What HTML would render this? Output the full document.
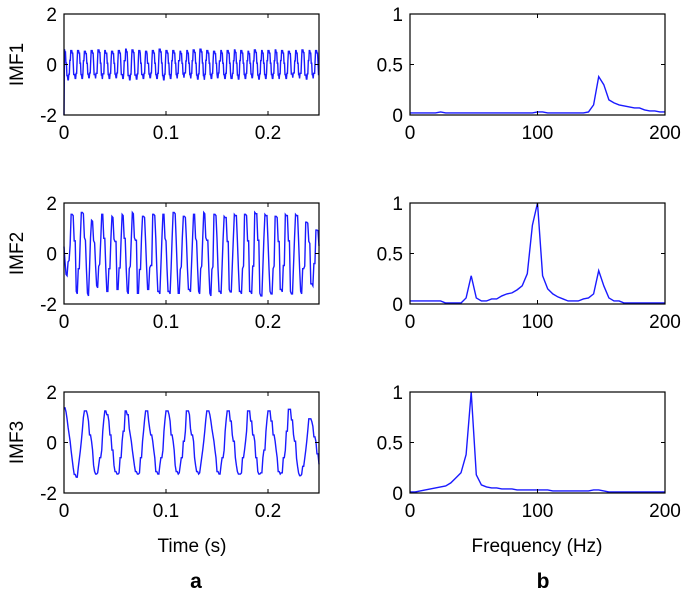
<!DOCTYPE html>
<html><head><meta charset="utf-8"><style>
html,body{margin:0;padding:0;background:#fff;}
svg{display:block;font-family:"Liberation Sans",Arial,sans-serif;}
</style></head><body>
<svg id="fig" width="685" height="600" viewBox="0 0 685 600" xmlns="http://www.w3.org/2000/svg"></svg>
<script>
// ---- data ----
const imf1Shape = [0.55,0.45,0.05,-0.4,-0.55,-0.35,0.15];
const imf1Amp = [1.1,1,1,0.95,1,1.05,1,0.95,1,1.1,1.05,1,0.95,1,1.1,1,1,0.95,1,1.05,1.1,1,0.95,1,1,1.05,1,0.95,1.05,1,1,1.05,1,0.95,1,1.05,1,1];
const imf2Shape = [1.55,1.5,0.6,0.5,-0.6,-1.5,-1.6,-0.6,-0.5,0.6];
const imf2Amp = [0.55,1.0,1.05,0.85,1,0.95,1,1.05,0.95,1,1,1.05,0.95,1,1.05,1,0.95,1,1,1.05,1,0.95,1,1,0.8,0.6];
const imf3Shape = [1.25,1.25,1.1,0.85,0.55,0.3,0.05,-0.3,-0.6,-0.9,-1.15,-1.25,-1.25,-1.2,-0.9,-0.6,-0.3,0.05,0.45,0.9];
const imf3Amp = [1.1,1,1,1,1,1,1,1,1,1,1,1.05,0.75,0.7];
const spec1 = [0.02,0.02,0.02,0.02,0.02,0.02,0.03,0.02,0.02,0.02,0.02,0.02,0.02,0.02,0.02,0.02,0.02,0.02,0.02,0.02,0.02,0.02,0.02,0.02,0.02,0.03,0.03,0.02,0.02,0.02,0.02,0.02,0.02,0.02,0.02,0.03,0.1,0.38,0.3,0.15,0.12,0.1,0.09,0.08,0.07,0.07,0.05,0.04,0.04,0.03,0.03];
const spec2 = [0.03,0.03,0.03,0.03,0.03,0.03,0.03,0.01,0.01,0.01,0.01,0.06,0.28,0.06,0.03,0.03,0.05,0.05,0.08,0.1,0.11,0.14,0.18,0.3,0.78,1.0,0.28,0.15,0.1,0.07,0.05,0.03,0.03,0.03,0.05,0.06,0.1,0.33,0.18,0.06,0.03,0.03,0.01,0.01,0.01,0.01,0.01,0.01,0.01,0.01,0.01];
const spec3 = [0.01,0.01,0.02,0.03,0.04,0.05,0.06,0.07,0.1,0.15,0.2,0.38,1.0,0.18,0.08,0.06,0.05,0.05,0.04,0.04,0.04,0.03,0.03,0.03,0.03,0.03,0.03,0.03,0.02,0.02,0.02,0.02,0.02,0.02,0.02,0.02,0.03,0.03,0.02,0.01,0.01,0.01,0.01,0.01,0.01,0.01,0.01,0.01,0.01,0.01,0.01];
const freqStep = 4;
const timeTicks = [0,0.1,0.2];
const timeTickLabels = ["0","0.1","0.2"];
const ampTicks = [-2,0,2];
const ampTickLabels = ["-2","0","2"];
const freqTicks = [0,100,200];
const freqTickLabels = ["0","100","200"];
const specTicks = [0,0.5,1];
const specTickLabels = ["0","0.5","1"];

const NS="http://www.w3.org/2000/svg";
const svg=document.getElementById('fig');
function el(tag,attrs,parent){const e=document.createElementNS(NS,tag);for(const k in attrs)e.setAttribute(k,attrs[k]);(parent||svg).appendChild(e);return e;}

function buildSignal(shape,amp,period,fs,phase,tmax){
  const t=[],v=[];const n=Math.round(tmax*fs);
  for(let i=0;i<=n;i++){const tt=i/fs;const c=(tt+phase)/period;const ci=Math.floor(c);
    const si=Math.floor((c-ci)*shape.length)%shape.length;
    t.push(tt);v.push(shape[si]*amp[Math.min(ci,amp.length-1)]);}
  return [t,v];
}

function panel(name,box,xlim,ylim,xt,xtl,yt,ytl,xs,ys){
  const g=el('g',{});
  
  
  const sx=x=>box.x+(x-xlim[0])/(xlim[1]-xlim[0])*box.w;
  const sy=y=>box.y+box.h-(y-ylim[0])/(ylim[1]-ylim[0])*box.h;
  let d='';
  for(let i=0;i<xs.length;i++){d+=(i?'L':'M')+sx(xs[i]).toFixed(2)+' '+sy(ys[i]).toFixed(2);}
  const p=el('path',{d:d,fill:'none',stroke:'#1a1aff','stroke-width':1.4},g);
  
  
  const r=el('rect',{x:box.x,y:box.y,width:box.w,height:box.h,fill:'none',stroke:'#000','stroke-width':1.2},g);
  
  
  xt.forEach((v,i)=>{const X=sx(v);
    el('line',{x1:X,x2:X,y1:box.y+box.h,y2:box.y+box.h-4,stroke:'#000'},g);
    el('line',{x1:X,x2:X,y1:box.y,y2:box.y+4,stroke:'#000'},g);
    const t=el('text',{x:X,y:box.y+box.h+24,'text-anchor':'middle','font-size':19},g);t.textContent=xtl[i];
    
    });
  yt.forEach((v,i)=>{const Y=sy(v);
    el('line',{x1:box.x,x2:box.x+4,y1:Y,y2:Y,stroke:'#000'},g);
    el('line',{x1:box.x+box.w,x2:box.x+box.w-4,y1:Y,y2:Y,stroke:'#000'},g);
    const t=el('text',{x:box.x-7,y:Y+7,'text-anchor':'end','font-size':19},g);t.textContent=ytl[i];
    
    });
}

const rowsY=[14,203,392], H=101;
const L={x:64,w:255}, R={x:410,w:255};
let s1=buildSignal(imf1Shape,imf1Amp,1/150,2100,0,0.25); s1[1][0]=-2;
let s2=buildSignal(imf2Shape,imf2Amp,0.01,1000,0.003,0.25);
let s3=buildSignal(imf3Shape,imf3Amp,0.02,1000,0.0,0.25);
const sig=[s1,s2,s3], spec=[spec1,spec2,spec3];
const names=['IMF1','IMF2','IMF3'];
for(let r=0;r<3;r++){
  panel('imf'+(r+1)+'-time-plot',{x:L.x,y:rowsY[r],w:L.w,h:H},[0,0.25],[-2,2],timeTicks,timeTickLabels,ampTicks,ampTickLabels,sig[r][0],sig[r][1]);
  const f=spec[r].map((_,i)=>i*freqStep);
  panel('imf'+(r+1)+'-spectrum-plot',{x:R.x,y:rowsY[r],w:R.w,h:H},[0,200],[0,1],freqTicks,freqTickLabels,specTicks,specTickLabels,f,spec[r]);
  const yl=el('text',{x:0,y:0,'font-size':19,'text-anchor':'middle',transform:`translate(23,${rowsY[r]+H/2}) rotate(-90)`});
  yl.textContent=names[r];
  
  
}
const xt1=el('text',{x:192,y:552,'font-size':19,'text-anchor':'middle'});xt1.textContent='Time (s)';


const xt2=el('text',{x:537,y:552,'font-size':19,'text-anchor':'middle'});xt2.textContent='Frequency (Hz)';


const la=el('text',{x:196,y:588,'font-size':21,'font-weight':'bold','text-anchor':'middle'});la.textContent='a';


const lb=el('text',{x:543,y:588,'font-size':21,'font-weight':'bold','text-anchor':'middle'});lb.textContent='b';


</script>
</body></html>
